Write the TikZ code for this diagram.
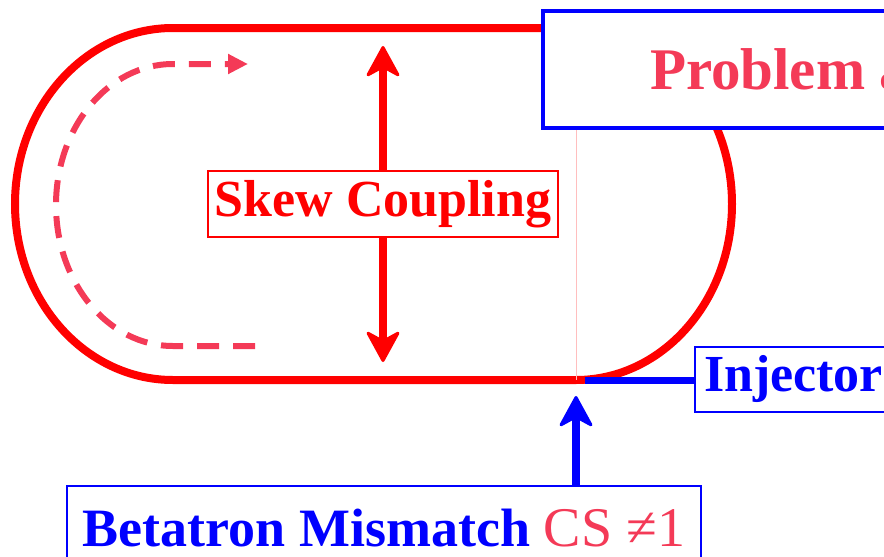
\documentclass[tikz,border=0pt]{standalone}
\usepackage{fontspec}
\setmainfont{Liberation Serif}
\usetikzlibrary{arrows.meta}
\definecolor{tpink}{RGB}{244,58,87}
\definecolor{pureblue}{RGB}{0,0,255}
\definecolor{purered}{RGB}{255,0,0}
\definecolor{faintpink}{RGB}{255,190,190}
\begin{document}
\begin{tikzpicture}[x=1pt,y=-1pt,
  bigfont/.style={font=\fontsize{52pt}{60pt}\selectfont\bfseries},
  track/.style={draw=purered, line width=8pt},
  bigtip/.tip={Stealth[length=34pt,width=37pt,inset=10pt,round,line width=3pt]},
  redarrow/.style={draw=purered, line width=7.5pt, -bigtip},
  bluearrow/.style={draw=pureblue, line width=8pt, -bigtip},
  dasharrow/.style={draw=tpink, line width=6pt, dash pattern=on 22pt off 14pt, -{Triangle[length=20pt,width=19pt]}},
  thinbox/.style={line width=2pt, fill=white, inner sep=0pt}
]
\useasboundingbox (0,0) rectangle (884,557);
\clip (0,0) rectangle (884,557);

% racetrack
\draw[track] (173,28) -- (576,28)
  arc[start angle=-90, end angle=90, x radius=156, y radius=176]
  -- (173,380)
  arc[start angle=90, end angle=270, x radius=158, y radius=176] -- cycle;

% faint vertical line
\draw[faintpink, line width=1pt] (576,128) -- (576,380);

% dashed circulation
\coordinate (dstart) at (255,346);
\coordinate (dend) at (248,64);
\draw[dasharrow] (dstart) -- (173,346)
  arc[start angle=90, end angle=270, x radius=117, y radius=141] -- (dend);

% top box
\node[draw=pureblue, line width=4pt, fill=white, anchor=west, inner xsep=107pt, inner ysep=0pt,
  minimum height=117pt, text=tpink, font=\fontsize{59pt}{66pt}\selectfont\bfseries] (prob) at (541,69) {Problem a};

% skew coupling
\node[thinbox, draw=purered, text=purered, bigfont, minimum width=350pt, minimum height=66pt] (skew) at (383,204) {\raisebox{-3pt}{Skew Coupling}};
\coordinate (uptip) at (383,46);
\coordinate (downtip) at (383,362);
\draw[redarrow] (skew.north) -- (uptip);
\draw[redarrow] (skew.south) -- (downtip);

% injector
\node[thinbox, draw=pureblue, text=pureblue, bigfont, anchor=west, inner xsep=9pt, minimum height=65pt] (inj) at (694,379) {\raisebox{-4pt}{Injector}};
\coordinate (joint) at (585,380);
\draw[draw=pureblue, line width=7pt] (joint) -- (joint -| inj.west);

% betatron mismatch
\node[thinbox, draw=pureblue, anchor=north west, minimum width=634pt, minimum height=84pt,
  font=\fontsize{54pt}{60pt}\selectfont] (beta) at (66,485)
  {{\bfseries\color{pureblue}Betatron Mismatch} {\fontsize{56pt}{60pt}\selectfont\color{tpink}CS ≠1}};
\coordinate (injtip) at (576,396);
\draw[bluearrow] (injtip |- beta.north) -- (injtip);
\end{tikzpicture}
\end{document}
